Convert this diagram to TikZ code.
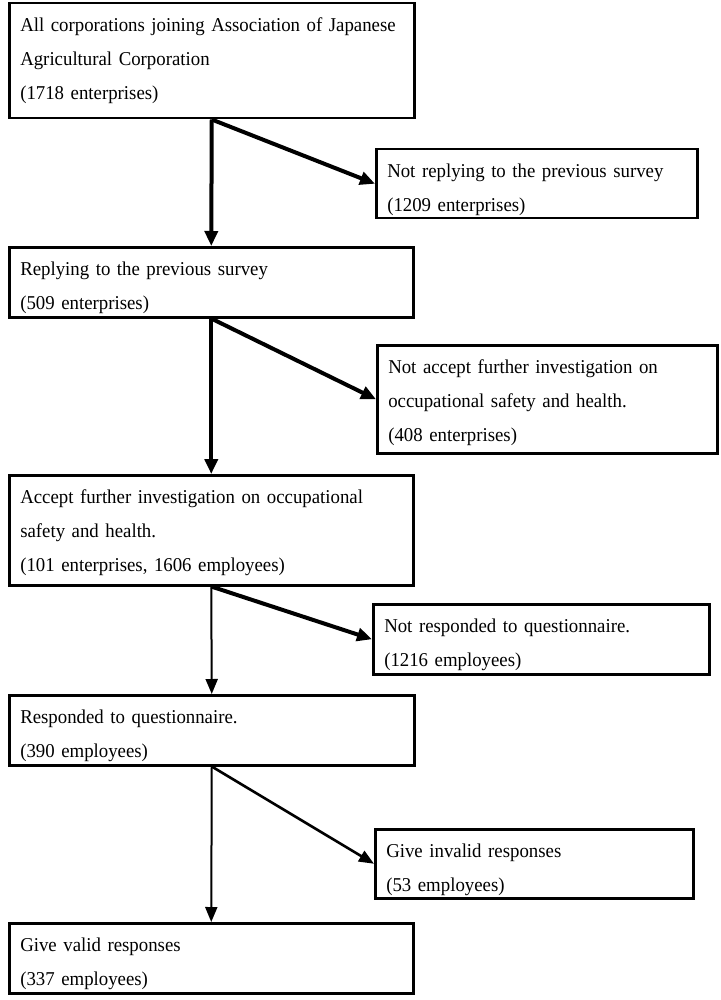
\documentclass[tikz,border=0pt]{standalone}
\usepackage{fontspec}
\setmainfont[FakeStretch=0.96]{Liberation Serif}
\usetikzlibrary{arrows.meta}
\tikzstyle{box}=[draw,line width=2.5pt,anchor=north west,inner xsep=11pt,inner ysep=0pt,align=left,
    font=\fontsize{19.6}{34}\selectfont,execute at begin node={\rule{0pt}{28pt}}]
\tikzstyle{edge}=[draw,line width=4pt,-{Triangle[length=15pt,width=13pt]}]
\tikzstyle{thinedge}=[draw,line width=2pt,-{Triangle[length=15pt,width=12pt]}]
\tikzset{bottomgap/.style={execute at end node={\rule[-#1]{0pt}{0pt}}}}
\begin{document}
\begin{tikzpicture}[x=1pt,y=-1pt]
    \useasboundingbox (0,0) rectangle (720,1000);
    % Boxes down the left side
    \node[box,bottomgap=19pt,text width=383pt] (b1) at (8,2)
        {All corporations joining Association of Japanese\\ Agricultural Corporation\\ (1718 enterprises)};
    \node[box,bottomgap=8pt,text width=382pt] (b3) at (8,246)
        {Replying to the previous survey\\ (509 enterprises)};
    \node[box,bottomgap=14pt,text width=382pt] (b5) at (8,474)
        {\makebox[\linewidth][s]{Accept further investigation on occupational}\\ safety and health.\\ (101 enterprises, 1606 employees)};
    \node[box,bottomgap=8pt,text width=383pt] (b7) at (8,694)
        {Responded to questionnaire.\\ (390 employees)};
    \node[box,bottomgap=8pt,text width=382pt] (b9) at (8,922)
        {Give valid responses\\ (337 employees)};
    % Boxes on the right side
    \node[box,bottomgap=7pt,text width=299pt] (b2) at (375,148)
        {Not replying to the previous survey\\ (1209 enterprises)};
    \node[box,bottomgap=12pt,text width=318pt] (b4) at (376,344)
        {\makebox[\linewidth][s]{Not accept further investigation on}\\ occupational safety and health.\\ (408 enterprises)};
    \node[box,bottomgap=8pt,text width=314pt] (b6) at (372,603)
        {Not responded to questionnaire.\\ (1216 employees)};
    \node[box,bottomgap=7pt,text width=296pt] (b8) at (374,828)
        {Give invalid responses\\ (53 employees)};
    % Connect boxes with arrows
    \foreach \source/\dest in {b1/b3, b3/b5}
        \path[edge] (\source.south) -- (\dest.north);
    \foreach \source/\dest in {b1/b2, b3/b4, b5/b6}
        \path[edge] (\source.south) -- (\dest.west);
    \foreach \source/\dest in {b5/b7, b7/b9}
        \path[thinedge] (\source.south) -- (\dest.north);
    \path[thinedge,line width=2.6pt] (b7.south) -- (b8.west);
\end{tikzpicture}
\end{document}
